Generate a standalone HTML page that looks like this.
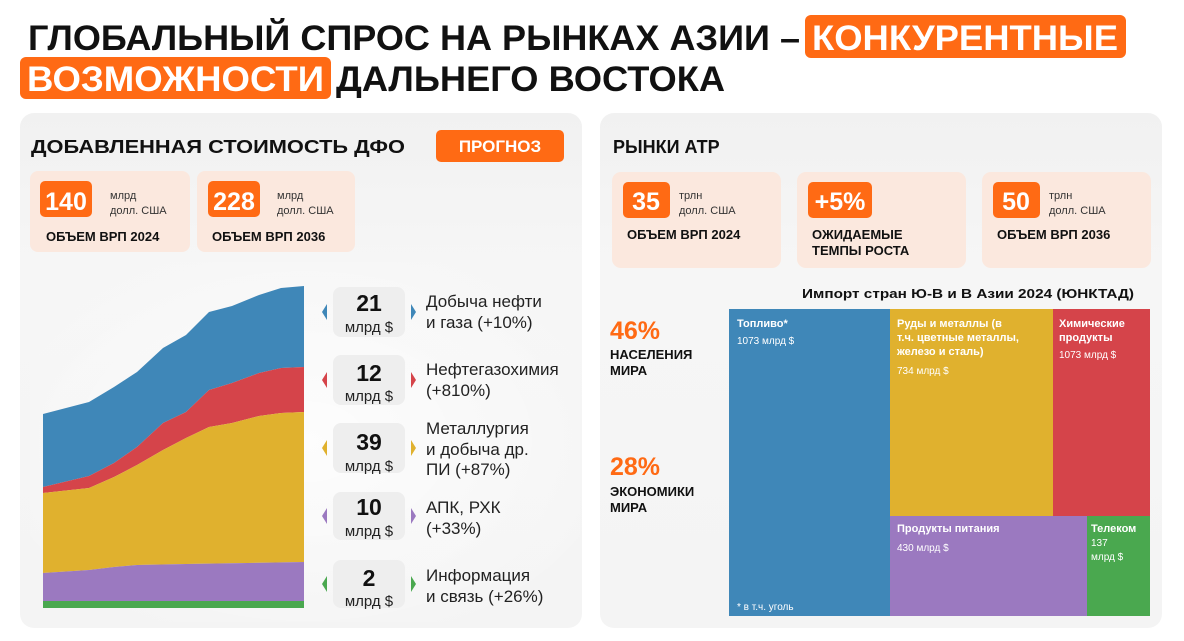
<!DOCTYPE html>
<html><head><meta charset="utf-8"><style>
html,body{margin:0;padding:0;background:#fff;}
svg{display:block;font-family:"Liberation Sans",sans-serif;}
</style></head><body>
<svg width="1184" height="641" viewBox="0 0 1184 641" xmlns="http://www.w3.org/2000/svg">
<defs>
<linearGradient id="pg" x1="0" y1="0" x2="0" y2="1"><stop offset="0" stop-color="#f1f1f1"/><stop offset="0.3" stop-color="#f6f6f6"/><stop offset="1" stop-color="#f4f4f4"/></linearGradient>
<radialGradient id="wg" cx="0.5" cy="0.5" r="0.6"><stop offset="0" stop-color="#fff" stop-opacity="0.8"/><stop offset="1" stop-color="#fff" stop-opacity="0"/></radialGradient>
</defs>
<rect width="1184" height="641" fill="#fff"/>
<rect x="805" y="15" width="321" height="43" rx="6" fill="#ff6a14"/>
<rect x="20" y="57" width="311" height="42" rx="6" fill="#ff6a14"/>
<text x="28" y="50" font-size="35" font-weight="bold" fill="#111" textLength="772" lengthAdjust="spacingAndGlyphs">ГЛОБАЛЬНЫЙ СПРОС НА РЫНКАХ АЗИИ –</text>
<text x="812" y="50" font-size="35" font-weight="bold" fill="#fff" textLength="306" lengthAdjust="spacingAndGlyphs">КОНКУРЕНТНЫЕ</text>
<text x="27" y="91" font-size="35" font-weight="bold" fill="#fff" textLength="297" lengthAdjust="spacingAndGlyphs">ВОЗМОЖНОСТИ</text>
<text x="336" y="91" font-size="35" font-weight="bold" fill="#111" textLength="389" lengthAdjust="spacingAndGlyphs">ДАЛЬНЕГО ВОСТОКА</text>

<rect x="20" y="113" width="562" height="515" rx="14" fill="url(#pg)"/>
<rect x="600" y="113" width="562" height="515" rx="14" fill="url(#pg)"/>
<rect x="30" y="262" width="550" height="360" fill="url(#wg)"/>

<text x="31" y="153" font-size="18" font-weight="bold" fill="#111" textLength="374" lengthAdjust="spacingAndGlyphs">ДОБАВЛЕННАЯ СТОИМОСТЬ ДФО</text>
<rect x="436" y="130" width="128" height="32" rx="5" fill="#ff6a14"/>
<text x="500" y="152" font-size="17" font-weight="bold" fill="#fff" text-anchor="middle">ПРОГНОЗ</text>

<rect x="30" y="171" width="160" height="81" rx="8" fill="#fbe8de"/>
<rect x="197" y="171" width="158" height="81" rx="8" fill="#fbe8de"/>
<rect x="40" y="181" width="52" height="36" rx="5" fill="#ff6a14"/>
<text x="66" y="210" font-size="25" font-weight="bold" fill="#fff" text-anchor="middle">140</text>
<text x="110" y="199" font-size="11" fill="#333">млрд</text>
<text x="110" y="214" font-size="11" fill="#333">долл. США</text>
<text x="46" y="241" font-size="13" font-weight="bold" fill="#111">ОБЪЕМ ВРП 2024</text>
<rect x="208" y="181" width="52" height="36" rx="5" fill="#ff6a14"/>
<text x="234" y="210" font-size="25" font-weight="bold" fill="#fff" text-anchor="middle">228</text>
<text x="277" y="199" font-size="11" fill="#333">млрд</text>
<text x="277" y="214" font-size="11" fill="#333">долл. США</text>
<text x="212" y="241" font-size="13" font-weight="bold" fill="#111">ОБЪЕМ ВРП 2036</text>

<polygon fill="#3f87b8" points="43,414 66,408 89,402 114,387 137,372 163,348 186,335 209,312 232,306 259,295 281,288 304,286 304,367 281,368 259,373 232,383 209,390 186,412 163,423 137,447 114,463 89,476 43,487"/>
<polygon fill="#d5444a" points="43,487 89,476 114,463 137,447 163,423 186,412 209,390 232,383 259,373 281,368 304,367 304,412 281,413 259,416 232,423 209,427 186,438 163,450 137,465 114,477 89,488 43,493"/>
<polygon fill="#e0b12e" points="43,493 89,488 114,477 137,465 163,450 186,438 209,427 232,423 259,416 281,413 304,412 304,562 186,564 137,565 114,567 89,570 43,573"/>
<polygon fill="#9b79c0" points="43,573 89,570 114,567 137,565 186,564 304,562 304,601 43,601"/>
<rect x="43" y="601" width="261" height="7" fill="#4aa84f"/>

<g font-size="15" fill="#222">
<g>
<rect x="333" y="287" width="72" height="50" rx="8" fill="#eeeeee"/>
<polygon points="327,304 322,312 327,320" fill="#3f87b8"/><polygon points="411,304 416,312 411,320" fill="#3f87b8"/>
<text x="369" y="311" font-size="23" font-weight="bold" text-anchor="middle" fill="#111">21</text>
<text x="369" y="332" text-anchor="middle">млрд $</text>
<text x="426" y="307" font-size="17">Добыча нефти</text><text x="426" y="328" font-size="17">и газа (+10%)</text>
</g>
<g>
<rect x="333" y="355" width="72" height="50" rx="8" fill="#eeeeee"/>
<polygon points="327,372 322,380 327,388" fill="#d5444a"/><polygon points="411,372 416,380 411,388" fill="#d5444a"/>
<text x="369" y="381" font-size="23" font-weight="bold" text-anchor="middle" fill="#111">12</text>
<text x="369" y="401" text-anchor="middle">млрд $</text>
<text x="426" y="375" font-size="17">Нефтегазохимия</text><text x="426" y="396" font-size="17">(+810%)</text>
</g>
<g>
<rect x="333" y="423" width="72" height="50" rx="8" fill="#eeeeee"/>
<polygon points="327,440 322,448 327,456" fill="#e0b12e"/><polygon points="411,440 416,448 411,456" fill="#e0b12e"/>
<text x="369" y="450" font-size="23" font-weight="bold" text-anchor="middle" fill="#111">39</text>
<text x="369" y="471" text-anchor="middle">млрд $</text>
<text x="426" y="434" font-size="17">Металлургия</text><text x="426" y="455" font-size="17">и добыча др.</text><text x="426" y="475" font-size="17">ПИ (+87%)</text>
</g>
<g>
<rect x="333" y="492" width="72" height="48" rx="8" fill="#eeeeee"/>
<polygon points="327,508 322,516 327,524" fill="#9b79c0"/><polygon points="411,508 416,516 411,524" fill="#9b79c0"/>
<text x="369" y="515" font-size="23" font-weight="bold" text-anchor="middle" fill="#111">10</text>
<text x="369" y="536" text-anchor="middle">млрд $</text>
<text x="426" y="513" font-size="17">АПК, РХК</text><text x="426" y="534" font-size="17">(+33%)</text>
</g>
<g>
<rect x="333" y="560" width="72" height="48" rx="8" fill="#eeeeee"/>
<polygon points="327,576 322,584 327,592" fill="#4aa84f"/><polygon points="411,576 416,584 411,592" fill="#4aa84f"/>
<text x="369" y="586" font-size="23" font-weight="bold" text-anchor="middle" fill="#111">2</text>
<text x="369" y="606" text-anchor="middle">млрд $</text>
<text x="426" y="581" font-size="17">Информация</text><text x="426" y="602" font-size="17">и связь (+26%)</text>
</g>
</g>

<text x="613" y="153" font-size="18" font-weight="bold" fill="#111">РЫНКИ АТР</text>
<rect x="612" y="172" width="169" height="96" rx="9" fill="#fbe8de"/>
<rect x="797" y="172" width="169" height="96" rx="9" fill="#fbe8de"/>
<rect x="982" y="172" width="169" height="96" rx="9" fill="#fbe8de"/>
<rect x="623" y="182" width="47" height="36" rx="5" fill="#ff6a14"/>
<text x="646" y="210" font-size="25" font-weight="bold" fill="#fff" text-anchor="middle">35</text>
<text x="679" y="199" font-size="11" fill="#333">трлн</text><text x="679" y="214" font-size="11" fill="#333">долл. США</text>
<text x="627" y="239" font-size="13" font-weight="bold" fill="#111">ОБЪЕМ ВРП 2024</text>
<rect x="808" y="182" width="64" height="36" rx="5" fill="#ff6a14"/>
<text x="840" y="210" font-size="25" font-weight="bold" fill="#fff" text-anchor="middle">+5%</text>
<text x="812" y="239" font-size="13" font-weight="bold" fill="#111">ОЖИДАЕМЫЕ</text>
<text x="812" y="255" font-size="13" font-weight="bold" fill="#111">ТЕМПЫ РОСТА</text>
<rect x="993" y="182" width="47" height="36" rx="5" fill="#ff6a14"/>
<text x="1016" y="210" font-size="25" font-weight="bold" fill="#fff" text-anchor="middle">50</text>
<text x="1049" y="199" font-size="11" fill="#333">трлн</text><text x="1049" y="214" font-size="11" fill="#333">долл. США</text>
<text x="997" y="239" font-size="13" font-weight="bold" fill="#111">ОБЪЕМ ВРП 2036</text>

<text x="968" y="298" font-size="13" font-weight="bold" fill="#111" text-anchor="middle" textLength="332" lengthAdjust="spacingAndGlyphs">Импорт стран Ю-В и В Азии 2024 (ЮНКТАД)</text>

<text x="610" y="339" font-size="25" font-weight="bold" fill="#ff6a14">46%</text>
<text x="610" y="359" font-size="13" font-weight="bold" fill="#111">НАСЕЛЕНИЯ</text>
<text x="610" y="375" font-size="13" font-weight="bold" fill="#111">МИРА</text>
<text x="610" y="475" font-size="25" font-weight="bold" fill="#ff6a14">28%</text>
<text x="610" y="496" font-size="13" font-weight="bold" fill="#111">ЭКОНОМИКИ</text>
<text x="610" y="512" font-size="13" font-weight="bold" fill="#111">МИРА</text>

<rect x="729" y="309" width="161" height="307" fill="#3f87b8"/>
<rect x="890" y="309" width="163" height="207" fill="#e0b12e"/>
<rect x="1053" y="309" width="97" height="207" fill="#d5444a"/>
<rect x="890" y="516" width="197" height="100" fill="#9b79c0"/>
<rect x="1087" y="516" width="63" height="100" fill="#4aa84f"/>
<g fill="#fff" font-size="10">
<text x="737" y="327" font-weight="bold" font-size="11">Топливо*</text>
<text x="737" y="344">1073 млрд $</text>
<text x="737" y="610">* в т.ч. уголь</text>
<text x="897" y="327" font-weight="bold" font-size="11">Руды и металлы (в</text>
<text x="897" y="341" font-weight="bold" font-size="11">т.ч. цветные металлы,</text>
<text x="897" y="355" font-weight="bold" font-size="11">железо и сталь)</text>
<text x="897" y="374">734 млрд $</text>
<text x="1059" y="327" font-weight="bold" font-size="11">Химические</text>
<text x="1059" y="341" font-weight="bold" font-size="11">продукты</text>
<text x="1059" y="358">1073 млрд $</text>
<text x="897" y="532" font-weight="bold" font-size="11">Продукты питания</text>
<text x="897" y="551">430 млрд $</text>
<text x="1091" y="532" font-weight="bold" font-size="11">Телеком</text>
<text x="1091" y="546">137</text>
<text x="1091" y="560">млрд $</text>
</g>
</svg>
</body></html>
